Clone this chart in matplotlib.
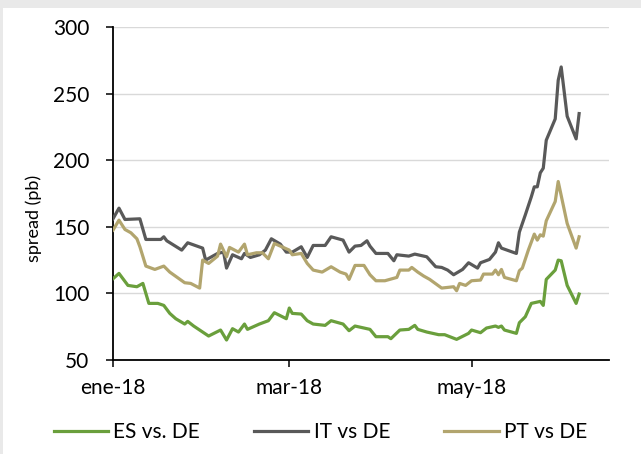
import matplotlib
matplotlib.use("Agg")
import matplotlib.pyplot as plt
import pandas as pd
from matplotlib.patches import Rectangle

plt.rcParams["font.family"] = ["Lato", "DejaVu Sans"]

# spreads vs Bund (pb)
es_dates = [
    "2018-01-01", "2018-01-03", "2018-01-06", "2018-01-09", "2018-01-11", "2018-01-13",
    "2018-01-16", "2018-01-18", "2018-01-20", "2018-01-22", "2018-01-25", "2018-01-26",
    "2018-01-28", "2018-01-31", "2018-02-02", "2018-02-06", "2018-02-08", "2018-02-10",
    "2018-02-12", "2018-02-14", "2018-02-15", "2018-02-19", "2018-02-22", "2018-02-24",
    "2018-02-28", "2018-03-01", "2018-03-02", "2018-03-05", "2018-03-07", "2018-03-09",
    "2018-03-13", "2018-03-15", "2018-03-19", "2018-03-21", "2018-03-23", "2018-03-26",
    "2018-03-28", "2018-03-30", "2018-04-03", "2018-04-04", "2018-04-07", "2018-04-10",
    "2018-04-12", "2018-04-13", "2018-04-16", "2018-04-20", "2018-04-22", "2018-04-26",
    "2018-04-30", "2018-05-01", "2018-05-04", "2018-05-06", "2018-05-09", "2018-05-10",
    "2018-05-11", "2018-05-12", "2018-05-16", "2018-05-17", "2018-05-19", "2018-05-21",
    "2018-05-24", "2018-05-25", "2018-05-26", "2018-05-29", "2018-05-30", "2018-05-31",
    "2018-06-02", "2018-06-05", "2018-06-06",
]
es_values = [
    111, 115, 106, 105, 107.5, 92.5,
    92.5, 91, 85, 81, 77, 79,
    75.5, 71, 68, 72.5, 65, 73.5,
    71, 77, 73, 77, 79.5, 85.5,
    81, 89, 85, 84.5, 79.5, 77,
    76, 79.5, 77, 72, 75.5, 74,
    73, 67.5, 67.5, 66, 72.5, 73,
    76, 73, 71, 69, 69, 65.5,
    70, 72.5, 70.5, 74, 75.5, 74.5,
    75.5, 72.5, 70, 78, 82.5, 92.5,
    94, 91, 110.5, 117.5, 125, 124.5,
    106, 92.5, 99.5,
]

it_dates = [
    "2018-01-01", "2018-01-03", "2018-01-05", "2018-01-10", "2018-01-12", "2018-01-17",
    "2018-01-18", "2018-01-19", "2018-01-24", "2018-01-26", "2018-01-31", "2018-02-01",
    "2018-02-05", "2018-02-07", "2018-02-08", "2018-02-10", "2018-02-13", "2018-02-14",
    "2018-02-16", "2018-02-19", "2018-02-21", "2018-02-23", "2018-02-26", "2018-02-28",
    "2018-03-02", "2018-03-05", "2018-03-07", "2018-03-09", "2018-03-13", "2018-03-15",
    "2018-03-19", "2018-03-21", "2018-03-23", "2018-03-25", "2018-03-27", "2018-03-28",
    "2018-03-30", "2018-04-03", "2018-04-05", "2018-04-06", "2018-04-10", "2018-04-12",
    "2018-04-16", "2018-04-19", "2018-04-21", "2018-04-23", "2018-04-25", "2018-04-28",
    "2018-04-30", "2018-05-03", "2018-05-04", "2018-05-07", "2018-05-09", "2018-05-10",
    "2018-05-11", "2018-05-16", "2018-05-17", "2018-05-19", "2018-05-21", "2018-05-22",
    "2018-05-23", "2018-05-24", "2018-05-25", "2018-05-26", "2018-05-29", "2018-05-30",
    "2018-05-31", "2018-06-02", "2018-06-05", "2018-06-06",
]
it_values = [
    156, 164, 155.5, 156, 140.5, 140.5,
    142.5, 139.5, 132.5, 138, 134, 125,
    130, 131, 119, 129, 126, 130,
    127, 129, 132.5, 141, 137, 131,
    131, 135, 127, 136, 136, 142.5,
    140, 131, 135.5, 136, 139.5, 135.5,
    130, 130, 124.5, 129, 128, 129.5,
    127.5, 120, 119.5, 117.5, 114, 118,
    123, 119, 123, 125.5, 131, 138,
    134, 130, 146, 159, 172.5, 180,
    180, 190.5, 194, 215, 231, 260,
    270, 233, 216, 235,
]

pt_dates = [
    "2018-01-01", "2018-01-03", "2018-01-05", "2018-01-07", "2018-01-09", "2018-01-10",
    "2018-01-12", "2018-01-15", "2018-01-18", "2018-01-20", "2018-01-25", "2018-01-27",
    "2018-01-30", "2018-01-31", "2018-02-02", "2018-02-05", "2018-02-06", "2018-02-08",
    "2018-02-09", "2018-02-12", "2018-02-14", "2018-02-15", "2018-02-18", "2018-02-20",
    "2018-02-22", "2018-02-24", "2018-02-27", "2018-03-01", "2018-03-02", "2018-03-05",
    "2018-03-07", "2018-03-09", "2018-03-12", "2018-03-15", "2018-03-18", "2018-03-20",
    "2018-03-21", "2018-03-23", "2018-03-26", "2018-03-28", "2018-03-30", "2018-04-02",
    "2018-04-06", "2018-04-07", "2018-04-10", "2018-04-11", "2018-04-13", "2018-04-15",
    "2018-04-17", "2018-04-21", "2018-04-23", "2018-04-25", "2018-04-26", "2018-04-27",
    "2018-04-29", "2018-05-01", "2018-05-04", "2018-05-05", "2018-05-08", "2018-05-09",
    "2018-05-10", "2018-05-11", "2018-05-12", "2018-05-16", "2018-05-17", "2018-05-18",
    "2018-05-20", "2018-05-22", "2018-05-23", "2018-05-24", "2018-05-25", "2018-05-26",
    "2018-05-29", "2018-05-30", "2018-06-02", "2018-06-05", "2018-06-06",
]
pt_values = [
    147.5, 155, 148, 145.5, 141, 135,
    120.5, 118, 120.5, 116, 108, 107.5,
    104, 125, 122.5, 128, 137, 127.5,
    134.5, 131, 137, 129, 130.5, 130.5,
    126, 137.5, 134.5, 132.5, 129, 130,
    122.5, 117.5, 116, 120, 116, 114.5,
    110.5, 121, 121, 114, 109.5, 109.5,
    112, 117.5, 117.5, 119.5, 116, 113,
    110.5, 104, 104.5, 105, 102, 107.5,
    106, 109.5, 110, 114.5, 114.5, 117.5,
    114, 118, 112, 109.5, 117, 119,
    132.5, 144.5, 140, 144, 143, 154.5,
    169, 184, 152.5, 134, 142.5,
]

series_labels = ["ES vs. DE", "IT vs DE", "PT vs DE"]
series_colors = ["#6a9f3c", "#595959", "#b2a56e"]

tick_dates = ["2018-01-01", "2018-03-01", "2018-05-01"]
tick_labels = ["ene-18", "mar-18", "may-18"]
y_ticks = [50, 100, 150, 200, 250, 300]


def main() -> None:
    fig = plt.figure(figsize=(6.41, 4.54), dpi=100)
    fig.patch.set_facecolor("#e9e9e9")
    fig.add_artist(Rectangle((3 / 641, 0), 1, 1 - 8 / 454, transform=fig.transFigure,
                             facecolor="white", edgecolor="none", zorder=-10))

    ax = fig.add_axes([113 / 641, 1 - 360 / 454, (609 - 113) / 641, (360 - 27) / 454])
    ax.set_facecolor("white")

    data = [(es_dates, es_values), (it_dates, it_values), (pt_dates, pt_values)]
    for (dates, values), label, color in zip(data, series_labels, series_colors):
        ax.plot(pd.to_datetime(dates), values, color=color, lw=2.3, label=label,
                solid_joinstyle="round", zorder=3)

    ax.set_ylim(50, 300)
    ax.set_yticks(y_ticks)
    ax.set_xlim(pd.Timestamp("2018-01-01"), pd.Timestamp("2018-06-16"))
    ax.set_xticks(pd.to_datetime(tick_dates))
    ax.set_xticklabels(tick_labels)

    ax.grid(axis="y", color="#d9d9d9", lw=1)
    ax.set_axisbelow(True)
    for side in ("top", "right"):
        ax.spines[side].set_visible(False)
    for side in ("left", "bottom"):
        ax.spines[side].set_color("black")
        ax.spines[side].set_linewidth(1.3)
    ax.tick_params(axis="both", direction="out", length=5, width=1.1, color="black",
                   labelsize=15, labelcolor="black")
    ax.tick_params(axis="x", pad=8)
    ax.tick_params(axis="y", pad=12)

    fig.text(34 / 641, 1 - 218 / 454, "spread (pb)", rotation=90, ha="center", va="center",
             fontsize=13, color="black")

    fig.legend(loc="center", bbox_to_anchor=(0.5, 1 - 432 / 454), ncol=3, frameon=False,
               fontsize=15, handlelength=2.6, handletextpad=0.25, columnspacing=2.6)

    fig.savefig("out.png", dpi=100, facecolor=fig.get_facecolor())
    plt.close(fig)


if __name__ == "__main__":
    main()
